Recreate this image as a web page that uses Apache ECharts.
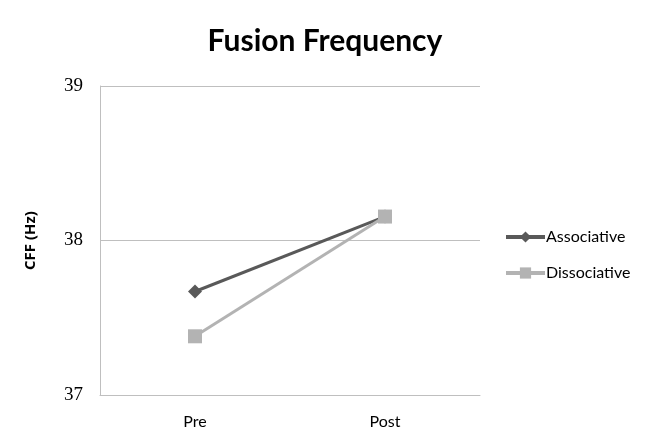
<!DOCTYPE html>
<html>
<head>
<meta charset="utf-8">
<script src="https://cdn.jsdelivr.net/npm/echarts@6/dist/echarts.min.js"></script>
<style>html,body{margin:0;padding:0;background:#fff;}#c{width:650px;height:444px;}</style>
</head>
<body>
<div id="c"></div>
<script>
const categories = ["Pre", "Post"];
const associative = [37.67, 38.155];
const dissociative = [37.38, 38.155];
const yTicks = [37, 38, 39];

const chart = echarts.init(document.getElementById('c'));
chart.setOption({
  animation: false,
  backgroundColor: '#fff',
  title: {
    text: 'Fusion Frequency',
    left: 320, top: 21, textAlign: 'center',
    textStyle: {fontFamily: 'Lato', fontWeight: 'bold', fontSize: 30, color: '#000'}
  },
  legend: {
    orient: 'vertical', left: 499, top: 224, itemWidth: 39, itemHeight: 14, itemGap: 20,
    lineStyle: {width: 4},
    textStyle: {fontFamily: 'Lato', fontSize: 16, color: '#000', padding: [0,0,0,-4]},
    data: ['Associative', 'Dissociative']
  },
  grid: {left: 100, right: 170, top: 86, bottom: 49},
  xAxis: {
    type: 'category', data: categories, boundaryGap: true,
    axisLine: {lineStyle: {color: '#bfbfbf', width: 1}},
    axisTick: {show: false},
    axisLabel: {fontFamily: 'Lato', fontSize: 16, color: '#000', margin: 19}
  },
  yAxis: {
    type: 'value', min: yTicks[0], max: yTicks[yTicks.length-1], interval: 1,
    name: 'CFF (Hz)', nameLocation: 'middle', nameGap: 62, nameRotate: 90,
    nameTextStyle: {fontFamily: 'Open Sans', fontWeight: 'bold', fontSize: 15, color: '#000'},
    axisLine: {show: true, lineStyle: {color: '#bfbfbf', width: 1}},
    axisTick: {show: false},
    axisLabel: {fontFamily: 'Liberation Serif', fontSize: 19, color: '#000', margin: 17},
    splitLine: {lineStyle: {color: '#bfbfbf', width: 1}}
  },
  series: [
    {
      name: 'Associative', type: 'line', data: associative,
      symbol: 'diamond', symbolSize: 14,
      lineStyle: {color: '#595959', width: 3},
      itemStyle: {color: '#595959'}
    },
    {
      name: 'Dissociative', type: 'line', data: dissociative,
      symbol: 'rect', symbolSize: 14,
      lineStyle: {color: '#b3b3b3', width: 3},
      itemStyle: {color: '#b3b3b3'}
    }
  ]
});
</script>
</body>
</html>
